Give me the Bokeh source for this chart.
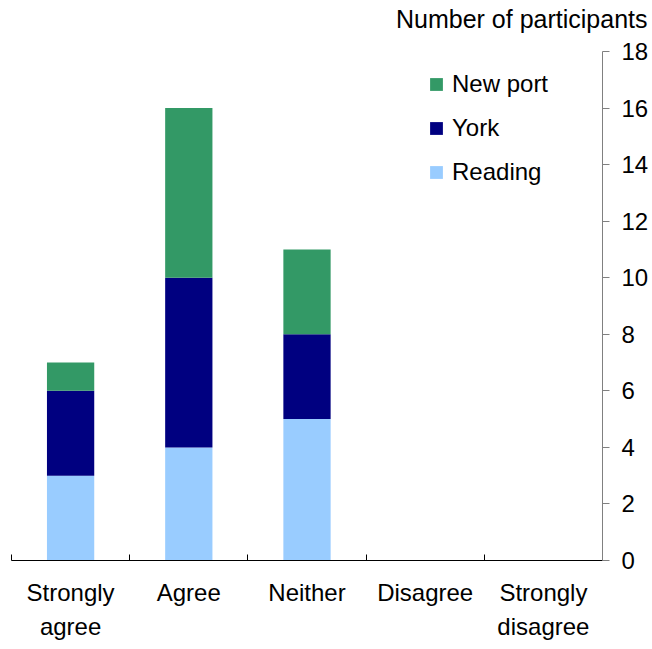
from bokeh.plotting import figure
from bokeh.models import FixedTicker, Legend, LegendItem, ColumnDataSource, Title, Range1d
from bokeh.embed import file_html
from bokeh.resources import INLINE

categories = ["Strongly\nagree", "Agree", "Neither", "Disagree", "Strongly\ndisagree"]
reading = [3, 4, 5, 0, 0]
york = [3, 6, 3, 0, 0]
newport = [1, 6, 3, 0, 0]
series_names = ["Reading", "York", "New port"]
colors = ["#99CCFF", "#000080", "#339966"]
y_ticks = [0, 2, 4, 6, 8, 10, 12, 14, 16, 18]
y_title = "Number of participants"

xs = [i + 0.5 for i in range(len(categories))]
src = ColumnDataSource(dict(x=xs, Reading=reading, York=york, **{"New port": newport}))

FONT = "Liberation Sans"

p = figure(frame_width=591, frame_height=509, output_backend="svg", toolbar_location=None,
           x_range=Range1d(0, 5), y_range=Range1d(0, 18), y_axis_location="right",
           min_border_left=11, min_border_top=51, min_border_right=47, min_border_bottom=0)
p.outline_line_color = None
p.grid.visible = False
p.background_fill_color = "white"

rs = p.vbar_stack(series_names, x="x", width=0.4, source=src, color=colors, line_color=None)

legend = Legend(items=[LegendItem(label=n, renderers=[r]) for n, r in zip(series_names[::-1], rs[::-1])],
                location=(417, 374), orientation="vertical")
legend.border_line_color = None
legend.background_fill_alpha = 0
legend.padding = 0
legend.margin = 0
legend.glyph_width = 16
legend.glyph_height = 16
legend.label_height = 28
legend.spacing = 16
legend.label_standoff = 8
legend.label_text_font = FONT
legend.label_text_font_size = "24px"
legend.label_text_color = "black"
p.add_layout(legend, "center")

xa = p.xaxis[0]
xa.ticker = FixedTicker(ticks=xs, minor_ticks=list(range(len(categories) + 1)))
xa.major_label_overrides = {x: c for x, c in zip(xs, categories)}
xa.major_tick_in = 0
xa.major_tick_out = 0
xa.minor_tick_in = 6
xa.minor_tick_out = 0
xa.minor_tick_line_color = "black"
xa.axis_line_color = "black"
xa.major_label_text_font = FONT
xa.major_label_text_font_size = "24px"
xa.major_label_text_color = "black"
xa.major_label_text_line_height = 1.27
xa.major_label_standoff = 18

ya = p.yaxis[0]
ya.ticker = FixedTicker(ticks=y_ticks)
ya.minor_tick_line_color = None
ya.major_tick_in = 0
ya.major_tick_out = 7
ya.major_tick_line_color = "#808080"
ya.axis_line_color = "#808080"
ya.major_label_standoff = 12
ya.major_label_text_font = FONT
ya.major_label_text_font_size = "24px"
ya.major_label_text_color = "black"

# spacer panel between the frame and the title
spacer = Title(text=" ", text_font_size="1px", standoff=14)
p.add_layout(spacer, "above")

p.title = Title(text=y_title, align="right", text_font=FONT,
                text_font_size="25px", text_font_style="normal", text_color="black",
                offset=-45, standoff=4)

open("out.html", "w").write(file_html(p, INLINE))
